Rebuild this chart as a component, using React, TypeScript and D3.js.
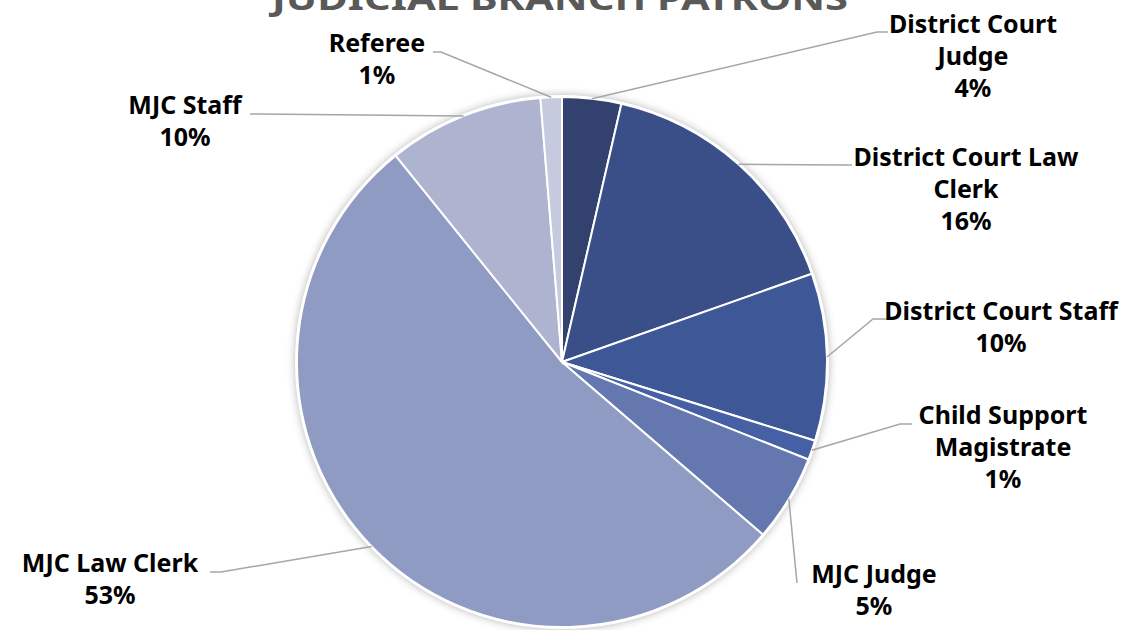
import { useMemo } from "react"
import * as d3 from "d3"

const categories = [
  "District Court Judge",
  "District Court Law Clerk",
  "District Court Staff",
  "Child Support Magistrate",
  "MJC Judge",
  "MJC Law Clerk",
  "MJC Staff",
  "Referee",
]

// share of patrons, percent
const shares = [3.6, 16.0, 10.2, 1.2, 5.3, 52.9, 9.5, 1.3]

const colors = ["#33416e", "#3a4e88", "#3e5797", "#4560a5", "#6577af", "#8f9bc2", "#aeb4d0", "#c5cadf"]

// how each label is wrapped
const labelLines = [
  ["District Court", "Judge"],
  ["District Court Law", "Clerk"],
  ["District Court Staff"],
  ["Child Support", "Magistrate"],
  ["MJC Judge"],
  ["MJC Law Clerk"],
  ["MJC Staff"],
  ["Referee"],
]

// label placement: text centre x, first baseline y, leader elbow + end
const labelLayout = [
  { x: 973, y: 33, elbow: [877, 32], end: [888, 32] },
  { x: 966, y: 166, elbow: [845, 165], end: [852, 165] },
  { x: 1001, y: 320, elbow: [873, 319], end: [886, 319] },
  { x: 1003, y: 424, elbow: [900, 424], end: [912, 424] },
  { x: 874, y: 583, elbow: [797, 583], end: [797, 583] },
  { x: 110, y: 572, elbow: [221, 572], end: [210, 572] },
  { x: 185, y: 114, elbow: [260, 114], end: [250, 114] },
  { x: 377, y: 52, elbow: [441, 52], end: [433, 52] },
]

const title = "JUDICIAL BRANCH PATRONS"

const W = 1125
const H = 630
const cx = 562
const cy = 362
const R = 265
const FONT = "'Noto Sans', 'DejaVu Sans', sans-serif"

export default function App() {
  const arcs = useMemo(() => {
    const pie = d3
      .pie<number>()
      .sort(null)
      .value((d) => d)
      .startAngle(0)
      .endAngle(2 * Math.PI)
    return pie(shares)
  }, [])

  const arcGen = d3.arc<d3.PieArcDatum<number>>().innerRadius(0).outerRadius(R)

  return (
    <svg
      width={W}
      height={H}
      style={{ position: "absolute", left: 0, top: 0, background: "#fff" }}
    >
      <defs>
        <filter id="shadow" x="-20%" y="-20%" width="140%" height="140%">
          <feDropShadow dx="0" dy="0" stdDeviation="5" floodColor="#000" floodOpacity="0.35" />
        </filter>
      </defs>

      <text
        x={560}
        y={10}
        textAnchor="middle"
        fontFamily={FONT}
        fontWeight="bold"
        fontSize={32}
        fill="#595959"
        textLength={576}
        lengthAdjust="spacingAndGlyphs"
      >
        {title}
      </text>

      <g transform={`translate(${cx},${cy})`}>
        <circle r={R + 1} fill="#fff" filter="url(#shadow)" />
        {arcs.map((a, i) => (
          <path key={categories[i]} d={arcGen(a) || ""} fill={colors[i]} stroke="#fff" strokeWidth={2} />
        ))}
        <circle r={R + 1} fill="none" stroke="#fff" strokeWidth={2} />
      </g>

      {arcs.map((a, i) => {
        const mid = (a.startAngle + a.endAngle) / 2
        const sx = cx + R * Math.sin(mid)
        const sy = cy - R * Math.cos(mid)
        const l = labelLayout[i]
        return (
          <polyline
            key={"lead" + i}
            points={`${sx},${sy} ${l.elbow[0]},${l.elbow[1]} ${l.end[0]},${l.end[1]}`}
            fill="none"
            stroke="#a6a6a6"
            strokeWidth={1.5}
          />
        )
      })}

      {categories.map((c, i) => {
        const l = labelLayout[i]
        const lines = [...labelLines[i], `${Math.round(shares[i])}%`]
        return (
          <text
            key={c}
            x={l.x}
            y={l.y}
            textAnchor="middle"
            fontFamily={FONT}
            fontWeight="bold"
            fontSize={25}
            fill="#000"
          >
            {lines.map((t, j) => (
              <tspan key={j} x={l.x} dy={j === 0 ? 0 : 32}>
                {t}
              </tspan>
            ))}
          </text>
        )
      })}
    </svg>
  )
}
